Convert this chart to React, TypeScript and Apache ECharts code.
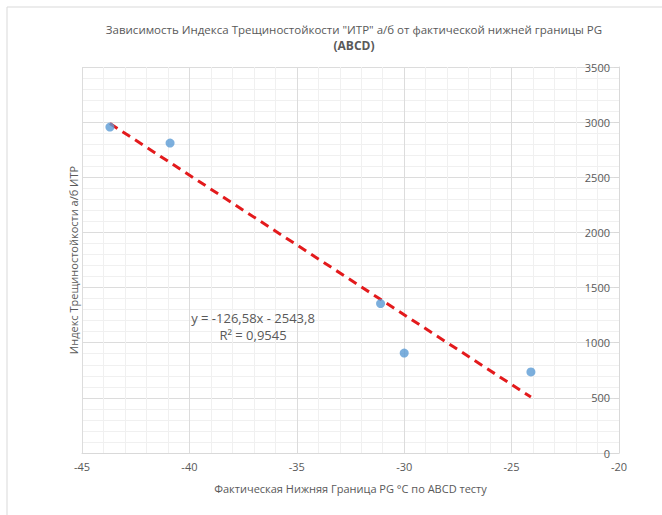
import React, { useEffect, useRef } from "react";
import * as echarts from "echarts";

const titleLine1 = 'Зависимость Индекса Трещиностойкости "ИТР" а/б от фактической нижней границы PG';
const titleLine2 = "(ABCD)";
const xAxisName = "Фактическая Нижняя Граница PG °C по ABCD тесту";
const yAxisName = "Индекс Трещиностойкости а/б ИТР";

const pgLow = [-43.7, -40.9, -31.1, -30.0, -24.1];
const itr = [2955, 2810, 1355, 906, 735];

const trendSlope = -126.58;
const trendIntercept = -2543.8;
const equationText = "y = -126,58x - 2543,8";
const r2Text = "R² = 0,9545";

const xMin = -45, xMax = -20, xInterval = 5;
const yMin = 0, yMax = 3500, yInterval = 500;

export default function App() {
  const ref = useRef<HTMLDivElement>(null);
  useEffect(() => {
    document.body.style.margin = "0";
    if (!ref.current) return;
    const chart = echarts.init(ref.current, null, { renderer: "svg" });
    const lo = Math.min(...pgLow);
    const hi = Math.max(...pgLow);
    const trend = [lo, hi].map((x) => [x, trendSlope * x + trendIntercept]);
    const font = "'Open Sans', sans-serif";
    const gray = "#595959";
    chart.setOption({
      animation: false,
      backgroundColor: "#ffffff",
      grid: { left: 82, right: 43, top: 67, bottom: 62, containLabel: false },
      xAxis: {
        type: "value",
        min: xMin,
        max: xMax,
        interval: xInterval,
        name: xAxisName,
        nameLocation: "middle",
        nameGap: 30,
        nameTextStyle: { color: gray, fontSize: 11, fontFamily: font },
        axisLine: { show: true, onZero: false, lineStyle: { color: "#d9d9d9", width: 1 } },
        axisTick: { show: false },
        axisLabel: { color: gray, fontSize: 11, fontFamily: font, margin: 8, formatter: (v: number) => String(v) },
        splitLine: { show: true, lineStyle: { color: "#dcdcdc", width: 1 } },
        minorTick: { show: false, splitNumber: 5 },
        minorSplitLine: { show: true, lineStyle: { color: "#f0f0f0", width: 1 } },
      },
      yAxis: {
        type: "value",
        position: "right",
        min: yMin,
        max: yMax,
        interval: yInterval,
        axisLine: { show: true, onZero: false, lineStyle: { color: "#d9d9d9", width: 1 } },
        axisTick: { show: true, inside: true, length: 5, lineStyle: { color: "#d9d9d9" } },
        axisLabel: { inside: true, color: gray, fontSize: 11, fontFamily: font, margin: 9, formatter: (v: number) => String(v) },
        splitLine: { show: true, lineStyle: { color: "#dcdcdc", width: 1 } },
        minorTick: { show: false, splitNumber: 5 },
        minorSplitLine: { show: true, lineStyle: { color: "#f0f0f0", width: 1 } },
      },
      series: [
        {
          type: "line",
          data: trend,
          symbol: "none",
          lineStyle: { color: "#e31a1c", width: 3, type: [9, 6] },
          z: 2,
        },
        {
          type: "scatter",
          data: pgLow.map((x, i) => [x, itr[i]]),
          symbolSize: 9,
          itemStyle: { color: "#5b9bd5" },
          z: 3,
        },
      ],
      graphic: [
        {
          type: "rect",
          shape: { x: 7, y: 7, width: 700, height: 560 },
          style: { fill: "none", stroke: "#d9d9d9", lineWidth: 1 },
          silent: true,
          z: -1,
        },
        {
          type: "text",
          x: 354,
          y: 29,
          z: 100,
          style: { text: titleLine1, fill: gray, fontSize: 11.5, fontFamily: font, align: "center", verticalAlign: "middle" },
        },
        {
          type: "text",
          x: 354,
          y: 45,
          z: 100,
          style: { text: titleLine2, fill: gray, fontSize: 12, fontWeight: "bold", fontFamily: font, align: "center", verticalAlign: "middle" },
        },
        {
          type: "text",
          x: 73,
          y: 260,
          rotation: Math.PI / 2,
          z: 100,
          style: { text: yAxisName, fill: gray, fontSize: 11, fontFamily: font, align: "center", verticalAlign: "middle" },
        },
        {
          type: "text",
          x: 253,
          y: 318,
          z: 100,
          style: { text: equationText, fill: gray, fontSize: 13, fontFamily: font, align: "center", verticalAlign: "middle" },
        },
        {
          type: "text",
          x: 253,
          y: 335,
          z: 100,
          style: { text: r2Text, fill: gray, fontSize: 13, fontFamily: font, align: "center", verticalAlign: "middle" },
        },
      ],
    });
    return () => chart.dispose();
  }, []);
  return <div ref={ref} style={{ width: 662, height: 515 }} />;
}
